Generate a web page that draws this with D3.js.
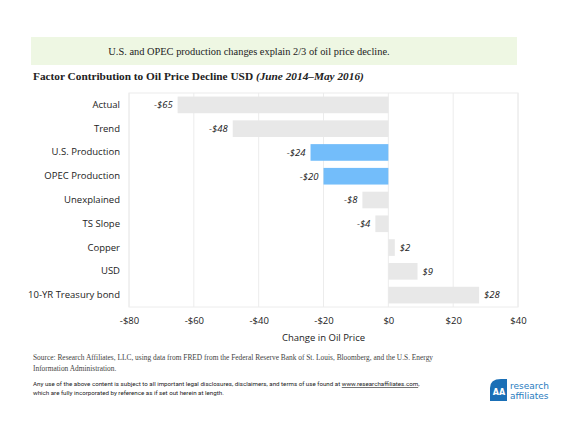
<!DOCTYPE html>
<html>
<head>
<meta charset="utf-8">
<script src="https://cdn.jsdelivr.net/npm/d3@7"></script>
<style>
  body { margin: 0; background: #fff; }
  svg text { fill: #222; }
</style>
</head>
<body>
<div id="chart"></div>
<script>
// Data
const categories = ["Actual", "Trend", "U.S. Production", "OPEC Production", "Unexplained",
    "TS Slope", "Copper", "USD", "10-YR Treasury bond"];
const values = [-65, -48, -24, -20, -8, -4, 2, 9, 28];
const highlighted = ["U.S. Production", "OPEC Production"];
const xTicks = [-80, -60, -40, -20, 0, 20, 40];

const W = 580, H = 435;
const plot = {left: 129, right: 518, top: 93, bottom: 307};

const svg = d3.select("#chart").append("svg")
    .attr("width", W)
    .attr("height", H);

// Banner
svg.append("rect")
    .attr("x", 31).attr("y", 37).attr("width", 486).attr("height", 28)
    .attr("fill", "#eef7e3");
svg.append("text")
    .attr("x", 249).attr("y", 55)
    .attr("text-anchor", "middle")
    .style("font", "10.4px 'Liberation Serif', serif")
    .text("U.S. and OPEC production changes explain 2/3 of oil price decline.");

// Title
const title = svg.append("text")
    .attr("x", 33).attr("y", 80)
    .style("font", "bold 11.3px 'Liberation Serif', serif");
title.append("tspan").text("Factor Contribution to Oil Price Decline USD ");
title.append("tspan").style("font-style", "italic").text("(June 2014\u2013May 2016)");

// Scales
const x = d3.scaleLinear().domain([-80, 40]).range([plot.left, plot.right]);
const y = d3.scaleBand().domain(categories).range([plot.top, plot.bottom]).paddingInner(0.3).paddingOuter(0.15);

// Grid
svg.append("g")
    .selectAll("line")
    .data(xTicks)
    .join("line")
    .attr("x1", d => x(d)).attr("x2", d => x(d))
    .attr("y1", plot.top).attr("y2", plot.bottom)
    .attr("stroke", "#ececec");
svg.append("rect")
    .attr("x", plot.left).attr("y", plot.top)
    .attr("width", plot.right - plot.left).attr("height", plot.bottom - plot.top)
    .attr("fill", "none").attr("stroke", "#ececec");

// Bars
svg.append("g")
    .selectAll("rect")
    .data(categories)
    .join("rect")
    .attr("x", (d, i) => x(Math.min(0, values[i])))
    .attr("y", d => y(d))
    .attr("width", (d, i) => Math.abs(x(values[i]) - x(0)))
    .attr("height", y.bandwidth())
    .attr("fill", d => highlighted.includes(d) ? "#73bdfa" : "#e8e8e8");

// Value labels
const fmt = v => (v < 0 ? "-$" : "$") + Math.abs(v);
svg.append("g")
    .selectAll("text")
    .data(categories)
    .join("text")
    .attr("x", (d, i) => values[i] < 0 ? x(values[i]) - 5 : x(values[i]) + 5)
    .attr("y", d => y(d) + y.bandwidth() / 2)
    .attr("dy", "0.35em")
    .attr("text-anchor", (d, i) => values[i] < 0 ? "end" : "start")
    .style("font", "italic 9.5px 'Open Sans', sans-serif")
    .text((d, i) => fmt(values[i]));

// Category axis
const yAxis = svg.append("g")
    .attr("transform", `translate(${plot.left},0)`)
    .call(d3.axisLeft(y).tickSize(0).tickPadding(9));
yAxis.select(".domain").remove();
yAxis.selectAll("text").style("font", "9.5px 'Open Sans', sans-serif").attr("fill", "#222");

// Value axis
const xAxis = svg.append("g")
    .attr("transform", `translate(0,${plot.bottom})`)
    .call(d3.axisBottom(x).tickValues(xTicks).tickSize(0).tickPadding(10).tickFormat(fmt));
xAxis.select(".domain").remove();
xAxis.selectAll("text").style("font", "9.5px 'Open Sans', sans-serif").attr("fill", "#222");

svg.append("text")
    .attr("x", x(-20)).attr("y", 341)
    .attr("text-anchor", "middle")
    .style("font", "9.5px 'Open Sans', sans-serif")
    .text("Change in Oil Price");

// Footer
const src = svg.append("g").style("font", "7.4px 'Liberation Serif', serif");
src.append("text").attr("x", 33).attr("y", 360).style("fill", "#444")
    .text("Source: Research Affiliates, LLC, using data from FRED from the Federal Reserve Bank of St. Louis, Bloomberg, and the U.S. Energy");
src.append("text").attr("x", 33).attr("y", 371).style("fill", "#444")
    .text("Information Administration.");

const disc = svg.append("g").style("font", "6.2px 'Roboto', sans-serif");
const d1 = disc.append("text").attr("x", 33).attr("y", 386);
d1.append("tspan").text("Any use of the above content is subject to all important legal disclosures, disclaimers, and terms of use found at ");
d1.append("tspan").style("text-decoration", "underline").text("www.researchaffiliates.com");
d1.append("tspan").text(",");
disc.append("text").attr("x", 33).attr("y", 395)
    .text("which are fully incorporated by reference as if set out herein at length.");

// Logo
const logo = svg.append("g").attr("transform", "translate(490,379)");
logo.append("path")
    .attr("d", "M0,22 L0,9 Q0,0 11,0 L17,0 L17,22 Z")
    .attr("fill", "#1a6fb6");
logo.append("text").attr("x", 9).attr("y", 16).attr("text-anchor", "middle")
    .style("font", "bold 8px 'DejaVu Sans', sans-serif").style("fill", "#fff")
    .text("AA");
logo.append("text").attr("x", 20).attr("y", 10)
    .style("font", "9px 'DejaVu Sans', sans-serif").style("fill", "#2a7cc0")
    .text("research");
logo.append("text").attr("x", 20).attr("y", 20)
    .style("font", "9px 'DejaVu Sans', sans-serif").style("fill", "#2a7cc0")
    .text("affiliates");
</script>
</body>
</html>
